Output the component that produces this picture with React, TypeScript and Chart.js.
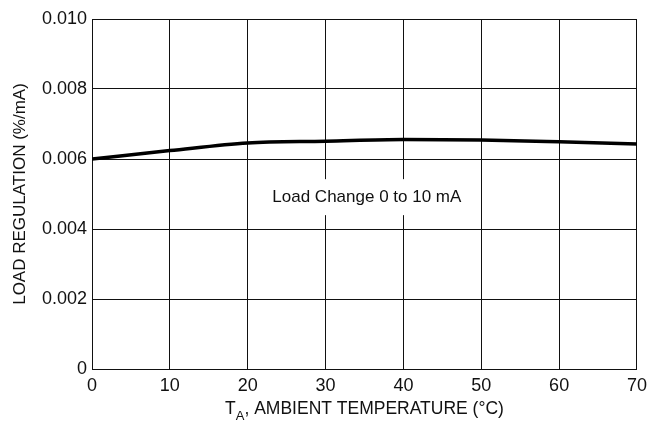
import React, { useEffect, useRef } from "react";
import { Chart, registerables } from "chart.js";

Chart.register(...registerables);

const temperatures = [0, 10, 20, 30, 40, 50, 60, 70];
const loadRegulation = [0.006, 0.00624, 0.00646, 0.00651, 0.00656, 0.00654, 0.00649, 0.00643];
const xTicks = [0, 10, 20, 30, 40, 50, 60, 70];
const yTicks = [0, 0.002, 0.004, 0.006, 0.008, 0.01];
const annotationText = "Load Change 0 to 10 mA";
const annotationAt = { x: 35.3, y: 0.00491 };
const yTitle = "LOAD REGULATION (%/mA)";
const xTitleMain = "T";
const xTitleSub = "A";
const xTitleRest = ", AMBIENT TEMPERATURE (°C)";

const FONT = '"Liberation Sans", Arial, sans-serif';

export default function App() {
  const ref = useRef<HTMLCanvasElement | null>(null);
  useEffect(() => {
    if (!ref.current) return;
    const annot = {
      id: "annot",
      afterDraw(chart: any) {
        const ctx = chart.ctx;
        const xs = chart.scales.x;
        const ys = chart.scales.y;
        const cx = xs.getPixelForValue(annotationAt.x);
        const cy = ys.getPixelForValue(annotationAt.y);
        ctx.save();
        ctx.font = `17px ${FONT}`;
        const w = ctx.measureText(annotationText).width;
        ctx.fillStyle = "#fff";
        ctx.fillRect(cx - w / 2 - 12, cy - 18, w + 24, 36);
        ctx.fillStyle = "#111";
        ctx.textAlign = "center";
        ctx.textBaseline = "middle";
        ctx.fillText(annotationText, cx, cy);
        // x-axis title with subscript
        const area = chart.chartArea;
        const mid = (area.left + area.right) / 2;
        const mainFont = `17.5px ${FONT}`;
        const subFont = `13px ${FONT}`;
        ctx.font = mainFont;
        const wT = ctx.measureText(xTitleMain).width;
        const wR = ctx.measureText(xTitleRest).width;
        ctx.font = subFont;
        const wS = ctx.measureText(xTitleSub).width;
        const total = wT + wS + wR;
        let x0 = mid - total / 2;
        const base = 414;
        ctx.textAlign = "left";
        ctx.textBaseline = "alphabetic";
        ctx.font = mainFont;
        ctx.fillText(xTitleMain, x0, base);
        x0 += wT;
        ctx.font = subFont;
        ctx.fillText(xTitleSub, x0, base + 6);
        x0 += wS;
        ctx.font = mainFont;
        ctx.fillText(xTitleRest, x0, base);
        ctx.restore();
      },
    };
    const chart = new Chart(ref.current, {
      type: "line",
      data: {
        datasets: [
          {
            data: temperatures.map((t, i) => ({ x: t, y: loadRegulation[i] })),
            borderColor: "#000",
            borderWidth: 3.5,
            pointRadius: 0,
            cubicInterpolationMode: "monotone",
            fill: false,
          },
        ],
      },
      options: {
        animation: false,
        responsive: false,
        layout: { padding: { top: 19, right: 16, left: 0, bottom: 0 } },
        plugins: { legend: { display: false }, tooltip: { enabled: false }, title: { display: false } },
        scales: {
          x: {
            type: "linear",
            min: 0,
            max: 70,
            afterBuildTicks(scale: any) {
              scale.ticks = xTicks.map((v) => ({ value: v }));
            },
            afterFit(scale: any) {
              scale.height = 61;
            },
            grid: { color: "#111", lineWidth: 1, drawTicks: false },
            border: { color: "#111", width: 1 },
            ticks: { color: "#111", font: { family: FONT, size: 18 }, padding: 6, maxRotation: 0 },
          },
          y: {
            type: "linear",
            min: 0,
            max: 0.01,
            afterBuildTicks(scale: any) {
              scale.ticks = yTicks.map((v) => ({ value: v }));
            },
            afterFit(scale: any) {
              scale.width = 92;
            },
            grid: { color: "#111", lineWidth: 1, drawTicks: false },
            border: { color: "#111", width: 1 },
            ticks: {
              color: "#111",
              font: { family: FONT, size: 18 },
              padding: 5,
              callback: (v: any) => (Number(v) === 0 ? "0" : Number(v).toFixed(3)),
            },
            title: {
              display: true,
              text: yTitle,
              color: "#111",
              font: { family: FONT, size: 17 },
              padding: { top: 10, bottom: 0 },
            },
          },
        },
      },
      plugins: [annot],
    } as any);
    return () => chart.destroy();
  }, []);
  return (
    <div style={{ position: "absolute", left: 0, top: 0, width: 653, height: 430, background: "#fff" }}>
      <canvas ref={ref} width={653} height={430} />
    </div>
  );
}
